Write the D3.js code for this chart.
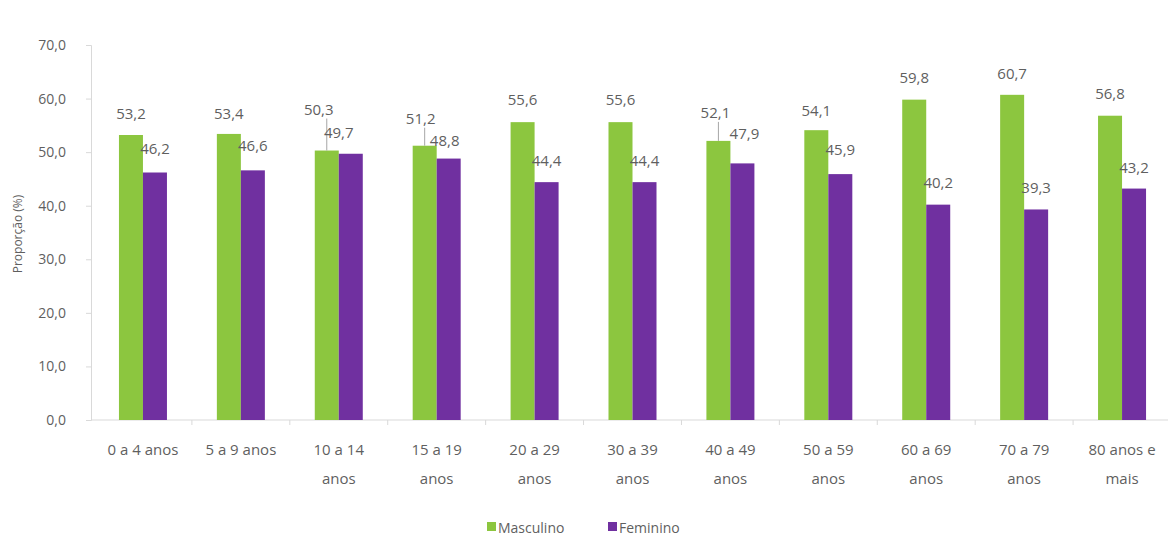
<!DOCTYPE html>
<html>
<head>
<meta charset="utf-8">
<script src="https://cdn.jsdelivr.net/npm/d3@7"></script>
<style>
  body { margin: 0; background: #fff; }
  text { font-family: "Open Sans", sans-serif; fill: #5f5f5f; }
</style>
</head>
<body>
<div class="container"></div>
<script>
let categories = ['0 a 4 anos', '5 a 9 anos', '10 a 14\nanos', '15 a 19\nanos', '20 a 29\nanos',
  '30 a 39\nanos', '40 a 49\nanos', '50 a 59\nanos', '60 a 69\nanos', '70 a 79\nanos', '80 anos e\nmais']
let masculino = [53.2, 53.4, 50.3, 51.2, 55.6, 55.6, 52.1, 54.1, 59.8, 60.7, 56.8]
let feminino = [46.2, 46.6, 49.7, 48.8, 44.4, 44.4, 47.9, 45.9, 40.2, 39.3, 43.2]
let yTicks = [0, 10, 20, 30, 40, 50, 60, 70]
let seriesNames = ['Masculino', 'Feminino']

// label lifts above the bar top (the original has a few labels moved by hand)
let mLift = [22, 21, 42, 28, 23, 23, 29, 20, 23, 22, 23]
let fLift = [25, 25, 22, 19, 22, 22, 30, 25, 23, 22, 22]
let fShift = [0, 0, -12, -4, 0, 0, 2, 0, 0, 0, 0]
let mShift = [0, 0, -8, -4, 0, 0, -3, 0, 0, 0, 0]

let colors = ['#8cc63f', '#7030a0']
let width = 1168, height = 537
let mLeft = 91, mRight = 1168, mTop = 45, mBottom = 420

let svg = d3.select('.container')
    .append('svg')
    .attr('width', width)
    .attr('height', height)

let x = d3.scaleBand()
    .domain(categories)
    .range([mLeft + 3, mRight + 3])

let y = d3.scaleLinear()
    .domain([0, 70])
    .range([mBottom, mTop])

let fmt = d => d3.format('.1f')(d).replace('.', ',')
let mid = i => x(categories[i]) + x.bandwidth() / 2

// y axis
let yAxis = svg.append('g')
    .attr('transform', `translate(${mLeft},0)`)
    .call(d3.axisLeft(y).tickValues(yTicks).tickSize(5).tickPadding(20).tickFormat(fmt))
yAxis.select('.domain').attr('stroke', '#d9d9d9')
yAxis.selectAll('.tick line').attr('stroke', '#d9d9d9')
yAxis.selectAll('.tick text').style('font-size', '14px').attr('fill', '#5f5f5f')

// x axis
let xAxis = svg.append('g')
    .attr('transform', `translate(0,${mBottom})`)
xAxis.append('line')
    .attr('x1', mLeft).attr('x2', mRight)
    .attr('stroke', '#d9d9d9')
xAxis.selectAll('.tk')
    .data(categories)
    .enter().append('line')
    .attr('x1', d => x(d) + x.bandwidth())
    .attr('x2', d => x(d) + x.bandwidth())
    .attr('y1', 0).attr('y2', 5)
    .attr('stroke', '#d9d9d9')
xAxis.selectAll('.lbl')
    .data(categories)
    .enter().append('text')
    .attr('text-anchor', 'middle')
    .style('font-size', '15px')
    .each(function(d) {
        d3.select(this).selectAll('tspan')
            .data(d.split('\n'))
            .enter().append('tspan')
            .attr('x', x(d) + x.bandwidth() / 2)
            .attr('y', (t, i) => 35 + i * 29)
            .text(t => t)
    })

// y axis title
svg.append('text')
    .attr('transform', 'translate(22,234) rotate(-90)')
    .attr('text-anchor', 'middle')
    .style('font-size', '12px')
    .attr('fill', '#7a7a7a')
    .text('Proporção (%)')

let barW = 24
let series = [masculino, feminino]

series.forEach(function(vals, s) {
    svg.selectAll('.bar' + s)
        .data(vals)
        .enter().append('rect')
        .attr('x', (d, i) => mid(i) - barW + s * barW)
        .attr('y', d => y(d))
        .attr('width', barW)
        .attr('height', d => mBottom - y(d))
        .style('fill', colors[s])
})

// leader lines for the moved labels
let moved = d3.range(masculino.length).filter(i => mLift[i] > 26)
svg.selectAll('.leader')
    .data(moved)
    .enter().append('line')
    .attr('x1', i => mid(i) - barW / 2)
    .attr('x2', i => mid(i) - barW / 2)
    .attr('y1', i => y(masculino[i]) - mLift[i] + 10)
    .attr('y2', i => y(masculino[i]))
    .attr('stroke', '#a6a6a6')
    .attr('stroke-width', 1)

svg.selectAll('.mlab')
    .data(masculino)
    .enter().append('text')
    .attr('text-anchor', 'middle')
    .attr('dominant-baseline', 'central')
    .style('font-size', '15px')
    .attr('fill', '#4d4d4d')
    .attr('x', (d, i) => mid(i) - barW / 2 + mShift[i])
    .attr('y', (d, i) => y(d) - mLift[i])
    .text(fmt)

svg.selectAll('.flab')
    .data(feminino)
    .enter().append('text')
    .attr('text-anchor', 'middle')
    .attr('dominant-baseline', 'central')
    .style('font-size', '15px')
    .attr('fill', '#4d4d4d')
    .attr('x', (d, i) => mid(i) + barW / 2 + fShift[i])
    .attr('y', (d, i) => y(d) - fLift[i])
    .text(fmt)

// legend
let legend = svg.append('g')
    .attr('transform', 'translate(487,527)')
let legX = [0, 121]
seriesNames.forEach(function(name, s) {
    legend.append('rect')
        .attr('x', legX[s]).attr('y', -5)
        .attr('width', 9).attr('height', 9)
        .style('fill', colors[s])
    legend.append('text')
        .attr('x', legX[s] + 11)
        .attr('dominant-baseline', 'central')
        .style('font-size', '14px')
        .text(name)
})
</script>
</body>
</html>
